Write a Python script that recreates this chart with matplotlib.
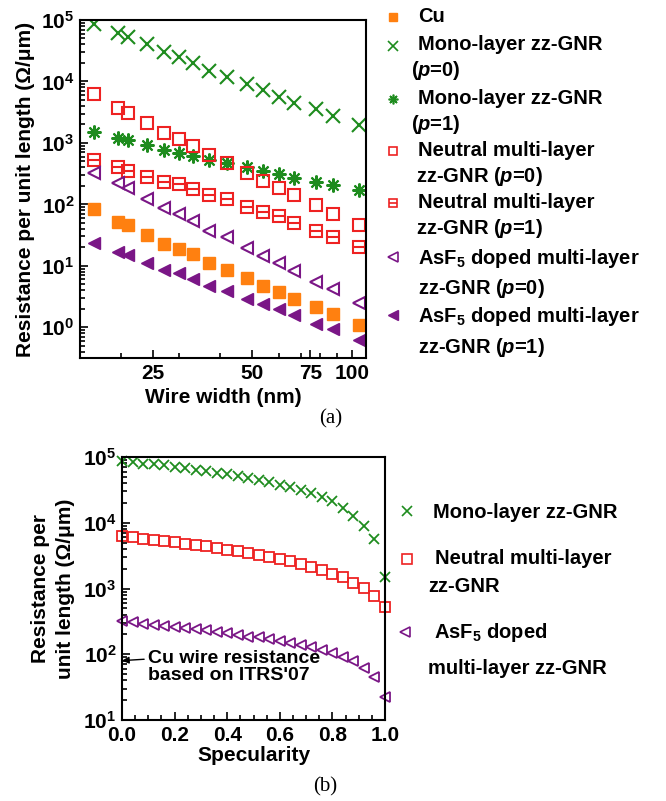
import numpy as np
import matplotlib.pyplot as plt
from matplotlib.lines import Line2D
from matplotlib.ticker import FixedLocator, NullFormatter, LogLocator, MultipleLocator

plt.rcParams['font.family'] = 'Liberation Sans'
plt.rcParams['font.weight'] = 'bold'
plt.rcParams['mathtext.fontset'] = 'custom'
plt.rcParams['mathtext.rm'] = 'Liberation Sans:bold'
plt.rcParams['mathtext.it'] = 'Liberation Sans:italic:bold'
plt.rcParams['mathtext.bf'] = 'Liberation Sans:bold'

# ---- (a) resistance vs wire width ----
width_nm = [16.5, 19.5, 21, 24, 27, 30, 33, 37, 42, 48, 54, 60, 67, 78, 88, 105]
cu = [83, 52, 46, 31.5, 23, 19.1, 15.4, 11.1, 8.7, 6.4, 4.7, 3.8, 2.9, 2.1, 1.63, 1.1]
mono_p0 = [86000, 60700, 53600, 40200, 30500, 24700, 20200, 14800, 11900, 8980,
           7240, 5640, 4500, 3510, 2730, 1950]
mono_p1 = [1520, 1210, 1110, 921, 763, 674, 609, 525, 474, 408, 351, 311, 264, 227, 205, 170]
neutral_p0 = [6240, 3650, 3090, 2080, 1460, 1140, 898, 633, 463, 318, 239, 188, 141, 97, 71, 46]
neutral_p1 = [525, 398, 351, 281, 233, 211, 177, 141, 120, 91, 74, 64, 49, 37, 29, 20]
asf5_p0 = [327, 219, 188, 122, 86, 69, 53, 37, 29, 19.6, 14.3, 11.1, 8.2, 5.5, 4.2, 2.5]
asf5_p1 = [23.6, 16.8, 14.9, 11.1, 8.7, 7.5, 6.2, 4.7, 3.9, 2.9, 2.4, 2.0, 1.57, 1.15, 0.93, 0.63]

# ---- (b) resistance vs specularity ----
specularity = np.round(np.arange(0, 1.001, 0.04), 2)
mono_spec = [85800, 83000, 79100, 77000, 74600, 71000, 67900, 64000, 60400, 57500,
             55100, 51500, 47900, 44500, 41100, 37600, 34500, 31300, 28300, 24600,
             21100, 16700, 12800, 9000, 5650, 1470]
neutral_spec = [6190, 5980, 5710, 5510, 5320, 5010, 4780, 4520, 4360, 4110,
                3880, 3750, 3460, 3260, 3010, 2800, 2610, 2350, 2120, 1930,
                1680, 1470, 1230, 1010, 774, 521]
asf5_spec = [326, 308, 290, 280, 270, 258, 249, 240, 230, 219,
             209, 197, 186, 180, 169, 160, 147, 137, 128, 117,
             104, 92, 79, 61, 45, 22.7]
cu_itrs = 80
spec_ticks = [0.0, 0.2, 0.4, 0.6, 0.8, 1.0]

green = '#1e8c1e'
red = '#ee2222'
purple = '#7a1686'
orange = '#ff8010'

fig = plt.figure(figsize=(6.66, 8.01), dpi=100)
W, H = 666, 801

# ---------- top plot ----------
ax1 = fig.add_axes([80 / W, 1 - 358 / H, 286 / W, 338 / H])
ax1.plot(width_nm, cu, 's', color=orange, ms=8.5, ls='none')
ax1.plot(width_nm, mono_p0, 'x', color=green, ms=10, mew=1.5, ls='none')
ax1.plot(width_nm, mono_p1, marker=(8, 2, 0), color=green, ms=10, mew=1.5, ls='none')
ax1.plot(width_nm, neutral_p0, 's', mfc='none', mec=red, ms=8.5, mew=1.5, ls='none')
ax1.plot(width_nm, neutral_p1, 's', mfc='none', mec=red, ms=8.5, mew=1.5, ls='none')
ax1.plot(width_nm, neutral_p1, '_', color=red, ms=8.5, mew=1.5, ls='none')
ax1.plot(width_nm, asf5_p0, '<', mfc='none', mec=purple, ms=9, mew=1.5, ls='none')
ax1.plot(width_nm, asf5_p1, '<', color=purple, ms=9, ls='none')

ax1.set_xscale('log')
ax1.set_yscale('log')
ax1.set_xlim(15, 110.5)
ax1.set_ylim(10 ** -0.5, 1e5)
ax1.xaxis.set_major_locator(FixedLocator([25, 50, 75, 100]))
ax1.set_xticklabels(['25', '50', '75', '100'])
ax1.xaxis.set_minor_locator(FixedLocator([20, 30, 40, 60, 70, 80, 90]))
ax1.xaxis.set_minor_formatter(NullFormatter())
ax1.yaxis.set_major_locator(FixedLocator([1, 10, 100, 1e3, 1e4, 1e5]))
ax1.set_yticklabels([r'$10^{%d}$' % k for k in range(0, 6)])
ax1.yaxis.set_minor_locator(LogLocator(base=10, subs=np.arange(2, 10)))
ax1.yaxis.set_minor_formatter(NullFormatter())
ax1.set_xlabel('Wire width (nm)', fontsize=15, fontweight='bold', labelpad=4)
ax1.set_ylabel('Resistance per unit length (Ω/μm)', fontsize=15, fontweight='bold', labelpad=4)

# ---------- bottom plot ----------
ax2 = fig.add_axes([122 / W, 1 - 720 / H, 263 / W, 263 / H])
ax2.plot(specularity, mono_spec, 'x', color=green, ms=7, mew=1.3, ls='none', clip_on=False)
ax2.plot(specularity, neutral_spec, 's', mfc='none', mec=red, ms=6.5, mew=1.3, ls='none', clip_on=False)
ax2.plot(specularity, asf5_spec, '<', mfc='none', mec=purple, ms=7, mew=1.3, ls='none', clip_on=False)
ax2.set_yscale('log')
ax2.set_xlim(0, 1)
ax2.set_ylim(10, 1e5)
ax2.xaxis.set_major_locator(FixedLocator(spec_ticks))
ax2.set_xticklabels(['%.1f' % v for v in spec_ticks])
ax2.xaxis.set_minor_locator(MultipleLocator(0.05))
ax2.yaxis.set_major_locator(FixedLocator([10, 100, 1e3, 1e4, 1e5]))
ax2.set_yticklabels([r'$10^{%d}$' % k for k in range(1, 6)])
ax2.yaxis.set_minor_locator(LogLocator(base=10, subs=np.arange(2, 10)))
ax2.yaxis.set_minor_formatter(NullFormatter())
ax2.set_xlabel('Specularity', fontsize=15, fontweight='bold', labelpad=1)
ax2.set_ylabel('Resistance per\nunit length (Ω/μm)', fontsize=15, fontweight='bold',
               labelpad=6, linespacing=1.4)
ax2.annotate("Cu wire resistance\nbased on ITRS'07", xy=(0, cu_itrs), xytext=(0.1, 64),
             fontsize=14, fontweight='bold', ha='left', va='center', linespacing=0.95,
             arrowprops=dict(arrowstyle='-|>', color='black', lw=1, relpos=(0, 0.74),
                             shrinkA=1, shrinkB=0, mutation_scale=10))

for ax in (ax1, ax2):
    ax.tick_params(which='both', direction='in', labelsize=15, width=1.2)
    ax.tick_params(which='major', length=6, pad=4)
    ax.tick_params(which='minor', length=3.5)
    for s in ax.spines.values():
        s.set_linewidth(1.5)

# ---------- legends (drawn as figure text) ----------
def fx(px):
    return px / W

def fy(py):
    return 1 - py / H

def legend_marker(px, py, **kw):
    fig.add_artist(Line2D([fx(px)], [fy(py)], transform=fig.transFigure, ls='none', **kw))

lfs = 14.5
legend_marker(393, 17, marker='s', color=orange, ms=6)
fig.text(fx(418), fy(17), 'Cu', fontsize=lfs, va='center')
legend_marker(393, 46, marker='x', color=green, ms=7, mew=1.2)
fig.text(fx(418), fy(45), 'Mono-layer zz-GNR', fontsize=lfs, va='center')
fig.text(fx(411), fy(71), '($p$=0)', fontsize=lfs, va='center')
legend_marker(393, 99, marker=(8, 2, 0), color=green, ms=7, mew=1.2)
fig.text(fx(418), fy(98), 'Mono-layer zz-GNR', fontsize=lfs, va='center')
fig.text(fx(411), fy(125), '($p$=1)', fontsize=lfs, va='center')
legend_marker(393, 151, marker='s', mfc='none', mec=red, ms=6, mew=1.2)
fig.text(fx(418), fy(150), 'Neutral multi-layer', fontsize=lfs, va='center')
fig.text(fx(416), fy(177), 'zz-GNR ($p$=0)', fontsize=lfs, va='center')
legend_marker(393, 203, marker='s', mfc='none', mec=red, ms=6, mew=1.2)
legend_marker(393, 203, marker='_', color=red, ms=6, mew=1.2)
fig.text(fx(418), fy(202), 'Neutral multi-layer', fontsize=lfs, va='center')
fig.text(fx(416), fy(229), 'zz-GNR ($p$=1)', fontsize=lfs, va='center')
legend_marker(393, 257, marker='<', mfc='none', mec=purple, ms=6.5, mew=1.2)
fig.text(fx(418), fy(258), 'AsF$_5$ doped multi-layer', fontsize=lfs, va='center')
fig.text(fx(418), fy(289), 'zz-GNR ($p$=0)', fontsize=lfs, va='center')
legend_marker(393, 315, marker='<', color=purple, ms=6.5)
fig.text(fx(418), fy(316), 'AsF$_5$ doped multi-layer', fontsize=lfs, va='center')
fig.text(fx(418), fy(348), 'zz-GNR ($p$=1)', fontsize=lfs, va='center')

legend_marker(407, 511, marker='x', color=green, ms=7, mew=1.2)
fig.text(fx(433), fy(512), 'Mono-layer zz-GNR', fontsize=lfs, va='center')
legend_marker(407, 559, marker='s', mfc='none', mec=red, ms=6.5, mew=1.2)
fig.text(fx(435), fy(559), 'Neutral multi-layer', fontsize=lfs, va='center')
fig.text(fx(428), fy(587), 'zz-GNR', fontsize=lfs, va='center')
legend_marker(405, 632, marker='<', mfc='none', mec=purple, ms=7, mew=1.2)
fig.text(fx(434), fy(633), 'AsF$_5$ doped', fontsize=lfs, va='center')
fig.text(fx(428), fy(669), 'multi-layer zz-GNR', fontsize=lfs, va='center')

fig.text(fx(331), fy(419), '(a)', fontsize=15, fontweight='normal',
         family='Liberation Serif', ha='center', va='center')
fig.text(fx(325), fy(787), '(b)', fontsize=15, fontweight='normal',
         family='Liberation Serif', ha='center', va='center')

fig.savefig('out.png', dpi=100)
